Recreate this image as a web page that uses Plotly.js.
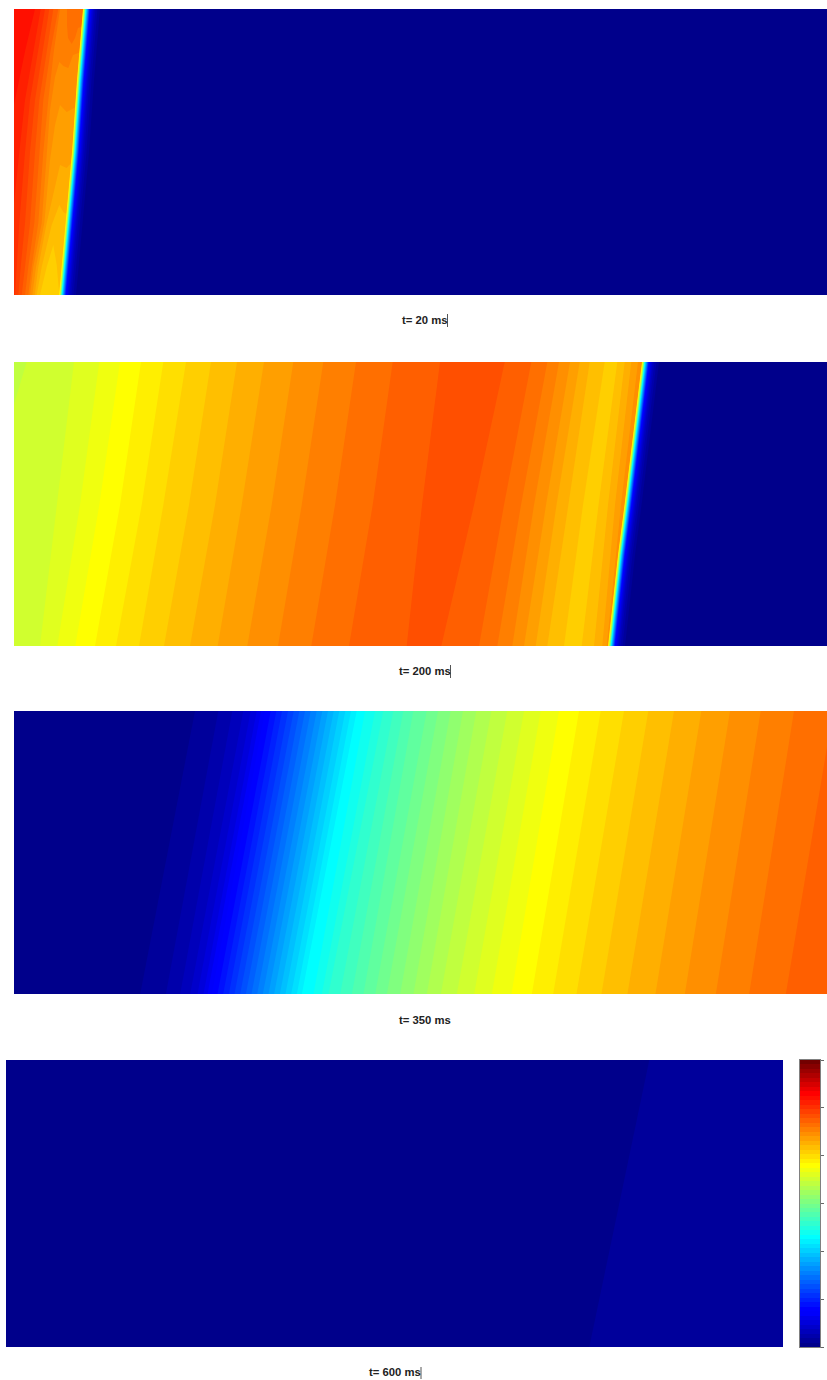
<!DOCTYPE html>
<html>
<head>
<meta charset="utf-8">
<script src="https://cdn.plot.ly/plotly-3.0.1.min.js"></script>
<style>html,body{margin:0;padding:0;background:#fff}</style>
</head>
<body>
<div id="chart" style="width:827px;height:1380px"></div>
<script>
// Iso-band edges. Each band is a colour level; the
// band starts at the listed edge and runs to the right of it.
const titles = ['t= 20 ms', 't= 200 ms', 't= 350 ms', 't= 600 ms'];

// Panel 1 (t = 20 ms)
const p1Levels = [55, 54, 53, 52, 51, 50, 49, 48, 49, 47, 46, 45, 44, 43];
const p1Rows = [9, 50, 100, 152, 223, 267, 295];
const p1X = [
  [14, 14, 14, 14, 14, 14, 14],
  [35, 25.3, 15, 3, -10, -20, -30],
  [40.7, 33.3, 25, 19.3, 12, 9, 7],
  [45, 38.3, 30, 25, 19.3, 16.7, 15],
  [49.3, 42.7, 35, 30, 25, 20.7, 18.3],
  [53.3, 46.7, 39.3, 35, 30, 25, 21.7],
  [58.3, 50.7, 43.3, 39.3, 34.3, 28.3, 25],
  [60, 54, 48.3, 43.3, 38.3, 31.7, 28.3],
  [67, 67, 68, 71.7, 75, 78, 100],
  [30, 33.3, 41.7, 47.3, 50, 55, 59.3, 63.3, 68.3, 73, 100],
  [32.3, 36, 44.3, 50, 55, 60, 66.7, 74, 100],
  [34.7, 38.3, 46.7, 55, 60, 66.7, 72, 100],
  [36.7, 41.7, 51.7, 59.3, 63.3, 68.3, 100],
  [40, 46.7, 53.3, 56.7, 59.3]
];
const p1Y = [
  p1Rows, p1Rows, p1Rows, p1Rows, p1Rows, p1Rows, p1Rows, p1Rows,
  [9, 25, 38, 44, 38, 28, 20],
  [295, 267, 223, 152, 110, 77, 62, 66, 68, 55, 45],
  [295, 267, 223, 160, 125, 105, 112, 108, 95],
  [295, 267, 223, 185, 165, 168, 162, 155],
  [295, 267, 225, 205, 212, 215, 208],
  [295, 267, 245, 265, 295]
];
const p1FrontY = [9, 80, 152, 223, 295];
const p1FrontX = [86, 80, 75, 68.3, 62];

// Panel 2 (t = 200 ms)
const p2Levels = [36, 37, 38, 39, 40, 41, 42, 43, 44, 45, 46, 47, 48, 49, 50, 51, 50, 49, 48, 47, 46, 45, 44, 43, 44, 45, 46, 47];
const p2Rows = [362, 505, 646];
const p2X = [
  [14, 14, 14],
  [26.7, -16, -57],
  [74, 56.7, 40],
  [99.3, 80, 57.3],
  [120, 99.3, 75.3],
  [141, 120, 95],
  [163.3, 141.7, 116],
  [186, 163.3, 139],
  [211, 189, 164],
  [237, 215, 190],
  [264, 241.7, 217.7],
  [293.3, 271.7, 247.3],
  [323.3, 301.7, 278],
  [356, 335, 311.3],
  [392.7, 372.7, 349],
  [440, 422, 406.7],
  [504.7, 474, 441.3],
  [531.3, 504, 479],
  [547.3, 521, 497.3],
  [559, 534, 512.3],
  [570, 546, 524],
  [579.7, 556.5, 535.7],
  [589.7, 568, 547.3],
  [604.7, 583, 564],
  [617.3, 598.5, 581.7],
  [624.7, 608, 594],
  [631.3, 615, 602.3],
  [638, 621, 606.7]
];
const p2FrontY = [362, 450, 505, 555, 646];
const p2FrontX = [645, 634.5, 627.5, 621, 611];

// Panel 3 (t = 350 ms)
const p3Levels = [0, 1, 2, 3, 4, 5, 6, 7, 8, 9, 10, 11, 12, 13, 14, 15, 16, 17, 18, 19, 20, 21, 22, 23, 24, 25, 26, 27, 28, 29, 30, 31, 32, 33, 34, 35, 36, 37, 38, 39, 40, 41, 42, 43, 44, 45, 46, 47, 48, 49, 50];
const p3Rows = [711, 995];
const p3TopX = [14, 195, 218.3, 232.3, 243.3, 250.7, 256.7, 261, 265, 270.7, 276.3, 282, 288, 293.7, 299.3, 305, 310.7, 316.7, 322.3, 328, 333.7, 339.3, 345.3, 351, 356.7, 365, 375, 383.3, 393.3, 403.3, 413.3, 426.7, 438, 450.7, 463, 476.3, 491.3, 507.3, 524, 540.7, 559, 579, 600.7, 624, 648.3, 674, 701.3, 730, 760.7, 794, 833];
const p3BottomX = [14, 140, 165.7, 180, 190, 197.3, 203.3, 207.3, 211.7, 217.3, 223, 228.7, 234.3, 240, 245.7, 251.3, 257, 262.7, 268.3, 274, 279.7, 285.3, 291, 296.7, 301.7, 313.3, 321.7, 328.3, 340, 351.7, 363.3, 375, 386.7, 400, 413.3, 426.7, 440.7, 456.7, 474, 491.7, 511.3, 531.7, 553, 576.3, 601.3, 627.3, 655.3, 684.7, 715.7, 749, 785.7];

// Panel 4 (t = 600 ms)
const p4Levels = [0, 1];
const p4Rows = [1060, 1347];
const p4TopX = [6, 649.3];
const p4BottomX = [6, 589.3];

// Steep activation front: colour levels and their distance from the cyan crest
const frontLevels = [42, 41, 40, 39, 38, 37, 36, 35, 34, 33, 32, 31, 30, 29, 28, 27, 26, 25, 24, 23, 22, 21, 20, 19, 18, 17, 16, 15, 14, 13, 12, 11, 10, 9, 8, 7, 6, 5, 4, 3, 2, 1, 0];
const frontOffsets = [-3, -2.75, -2.5, -2.3, -2.1, -1.95, -1.8, -1.6, -1.4, -1.25, -1.1, -0.9, -0.75, -0.6, -0.45, -0.3, -0.2, -0.1, 0, 0.2, 0.4, 0.6, 0.85, 1.1, 1.35, 1.6, 1.9, 2.15, 2.4, 2.65, 2.9, 3.15, 3.4, 3.7, 4, 4.6, 5.2, 6, 7, 8, 9.5, 11.5, 14];

// Colour bar
const barLevels = [];
for (let i = 0; i < 64; i++) barLevels.push(i);
const barTicks = [-0.5, 10.17, 20.83, 31.5, 42.17, 52.83, 63.5];

// ------ layout helpers (pixels of the 827x1380 page) ------
const W = 827, H = 1380;
function jet(L) {
  let r = 0, g = 0, b = 0;
  if (L < 8) { b = 139 + 16 * L; }
  else if (L < 24) { g = (L - 8) * 16; b = 255; }
  else if (L < 40) { r = (L - 24) * 16; g = 255; b = 255 - r; }
  else if (L < 56) { r = 255; g = 255 - (L - 40) * 16; }
  else { r = 255 - (L - 56) * 20; }
  const c = v => Math.max(0, Math.min(255, Math.round(v)));
  return 'rgb(' + c(r) + ',' + c(g) + ',' + c(b) + ')';
}
const boxes = [
  {l: 14, r: 827, t: 9, b: 295},
  {l: 14, r: 827, t: 362, b: 646},
  {l: 14, r: 827, t: 711, b: 994},
  {l: 6, r: 783, t: 1060, b: 1347}
];
const traces = [];
function band(n, level, xs, ys) {
  const box = boxes[n - 1], R = box.r + 50;
  traces.push({
    type: 'scatter', mode: 'lines', xaxis: 'x' + n, yaxis: 'y' + n,
    x: xs.concat([R, R]), y: ys.concat([ys[ys.length - 1], ys[0]]),
    fill: 'toself', fillcolor: jet(level), line: {width: 0},
    hoverinfo: 'skip', showlegend: false
  });
}
function front(n, fy, fx) {
  frontLevels.forEach((lv, i) => band(n, lv, fx.map(v => v + frontOffsets[i]), fy));
}
p1Levels.forEach((lv, i) => band(1, lv, p1X[i], p1Y[i]));
front(1, p1FrontY, p1FrontX);
p2Levels.forEach((lv, i) => band(2, lv, p2X[i], p2Rows));
front(2, p2FrontY, p2FrontX);
p3Levels.forEach((lv, i) => band(3, lv, [p3TopX[i], p3BottomX[i]], p3Rows));
p4Levels.forEach((lv, i) => band(4, lv, [p4TopX[i], p4BottomX[i]], p4Rows));

const barScale = [];
barLevels.forEach(L => {
  barScale.push([L / 64, jet(L)]);
  barScale.push([(L + 1) / 64, jet(L)]);
});
traces.push({
  type: 'heatmap', xaxis: 'x5', yaxis: 'y5', x: [0], y: barLevels,
  z: barLevels.map(L => [L]), zmin: -0.5, zmax: 63.5,
  colorscale: barScale, showscale: false, hoverinfo: 'skip'
});

const layout = {
  width: W, height: H, margin: {l: 0, r: 0, t: 0, b: 0, pad: 0},
  paper_bgcolor: '#ffffff', plot_bgcolor: 'rgba(0,0,0,0)', showlegend: false,
  annotations: [], shapes: []
};
const bare = {showgrid: false, zeroline: false, showticklabels: false, ticks: '', showline: false, fixedrange: true};
boxes.forEach((b, i) => {
  const n = i + 1;
  layout['xaxis' + n] = Object.assign({}, bare, {domain: [b.l / W, b.r / W], range: [b.l, b.r], anchor: 'y' + n});
  layout['yaxis' + n] = Object.assign({}, bare, {domain: [1 - b.b / H, 1 - b.t / H], range: [b.b, b.t], anchor: 'x' + n});
});
layout.xaxis5 = Object.assign({}, bare, {domain: [799.5 / W, 820 / W], range: [-0.5, 0.5], anchor: 'y5', showline: true, linecolor: '#808080', linewidth: 1, mirror: true});
layout.yaxis5 = Object.assign({}, bare, {
  domain: [1 - 1347 / H, 1 - 1060 / H], range: [-0.5, 63.5], anchor: 'x5', side: 'right',
  showline: true, linecolor: '#808080', linewidth: 1, mirror: true,
  tickmode: 'array', tickvals: barTicks, ticks: 'outside', ticklen: 3, tickwidth: 1, tickcolor: '#666666'
});

const captionPos = [[424.5, 320], [424.5, 671], [424.5, 1020], [395, 1372]];
const cursors = [[447.5, 314, 327], [450.5, 665, 678], null, [421, 1367, 1379]];
titles.forEach((t, i) => {
  layout.annotations.push({
    text: t, xref: 'paper', yref: 'paper', x: captionPos[i][0] / W, y: 1 - captionPos[i][1] / H,
    xanchor: 'center', yanchor: 'middle', showarrow: false,
    font: {family: '"Liberation Sans", Arial, sans-serif', size: 11.3, color: '#222222', weight: 700}
  });
  if (cursors[i]) {
    const c = cursors[i];
    layout.shapes.push({
      type: 'line', xref: 'paper', yref: 'paper', x0: c[0] / W, x1: c[0] / W,
      y0: 1 - c[1] / H, y1: 1 - c[2] / H, line: {color: '#555555', width: 1}
    });
  }
});

Plotly.newPlot('chart', traces, layout, {staticPlot: true, displayModeBar: false});
</script>
</body>
</html>
